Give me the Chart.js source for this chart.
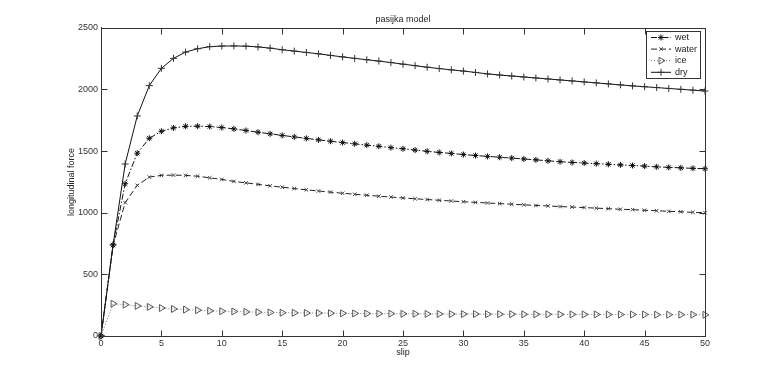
<!DOCTYPE html>
<html>
<head>
<meta charset="utf-8">
<script src="https://cdn.jsdelivr.net/npm/chart.js@4/dist/chart.umd.min.js"></script>
<style>
html,body{margin:0;padding:0;background:#fff;}
#wrap{width:777px;height:378px;}
</style>
</head>
<body>
<div id="wrap"><canvas id="c" width="777" height="378"></canvas></div>
<script>
// ---- data ----
const slip = [0,1,2,3,4,5,6,7,8,9,10,11,12,13,14,15,16,17,18,19,20,21,22,23,24,25,26,27,28,29,30,31,32,33,34,35,36,37,38,39,40,41,42,43,44,45,46,47,48,49,50];
const wet = [0,738,1235,1483,1604,1661,1688,1701,1702,1699,1691,1680,1667,1653,1640,1627,1615,1603,1591,1580,1569,1559,1548,1539,1528,1519,1508,1498,1489,1481,1472,1464,1457,1450,1443,1436,1429,1421,1414,1408,1403,1398,1393,1388,1383,1378,1372,1368,1364,1360,1357];
const water = [0,735,1082,1222,1289,1303,1305,1303,1296,1283,1270,1254,1242,1230,1218,1207,1196,1186,1176,1167,1158,1150,1142,1134,1127,1120,1113,1107,1101,1095,1089,1084,1079,1074,1069,1064,1059,1055,1050,1046,1042,1037,1033,1028,1025,1020,1016,1011,1008,1003,1000];
const ice = [0,262,254,244,236,227,219,214,209,204,201,199,196,193,191,189,188,187,186,185,184,183,182,181,181,180,180,179,179,178,178,178,177,177,177,176,176,176,175,175,175,175,174,174,174,174,173,173,173,173,172];
const dry = [0,740,1395,1785,2031,2171,2252,2303,2330,2347,2352,2353,2351,2345,2335,2322,2311,2300,2289,2276,2264,2252,2241,2230,2218,2205,2193,2180,2169,2159,2149,2138,2126,2117,2109,2101,2093,2085,2077,2069,2061,2053,2045,2037,2029,2022,2015,2008,2001,1994,1987];
const seriesNames = ['wet','water','ice','dry'];
const xTickValues = [0,5,10,15,20,25,30,35,40,45,50];
const yTickValues = [0,500,1000,1500,2000,2500];
const titleText = 'pasijka model';
const xTitle = 'slip';
const yTitle = 'longitudinal force';

const FONT = "'Liberation Sans Narrow','Liberation Sans',Arial,sans-serif";
const AX = '#333';

function pts(arr){ return slip.map((x,i)=>({x:x, y:arr[i]})); }

const datasets = [
  {label:seriesNames[0], data:pts(wet), borderColor:'#111', borderWidth:1, borderDash:[6,2,1.5,2],
   pointStyle:'star', pointRadius:3, pointBorderWidth:1, pointBorderColor:'#111', pointBackgroundColor:'rgba(0,0,0,0)'},
  {label:seriesNames[1], data:pts(water), borderColor:'#222', borderWidth:1, borderDash:[6,3],
   pointStyle:'crossRot', pointRadius:2.5, pointBorderWidth:1, pointBorderColor:'#444', pointBackgroundColor:'rgba(0,0,0,0)'},
  {label:seriesNames[2], data:pts(ice), borderColor:'#777', borderWidth:1, borderDash:[1,2],
   pointStyle:'triangle', pointRotation:90, pointRadius:4, pointBorderWidth:1, pointBorderColor:'#555', pointBackgroundColor:'rgba(255,255,255,0)'},
  {label:seriesNames[3], data:pts(dry), borderColor:'#111', borderWidth:1, borderDash:[],
   pointStyle:'cross', pointRadius:3.5, pointBorderWidth:1, pointBorderColor:'#333', pointBackgroundColor:'rgba(0,0,0,0)'}
];
datasets.forEach(d=>{ d.tension=0; d.fill=false; d.clip=false; d.pointHoverRadius=d.pointRadius; });

const boxPlugin = {
  id:'matlabBox',
  afterDatasetsDraw(chart){
    const {ctx, chartArea:a} = chart;
    const xs = chart.scales.x, ys = chart.scales.y;
    ctx.save();
    ctx.strokeStyle = AX; ctx.lineWidth = 1; ctx.setLineDash([]);
    const L = Math.round(a.left)+0.5, R = Math.round(a.right)+0.5, T = Math.round(a.top)+0.5, B = Math.round(a.bottom)+0.5;
    ctx.strokeRect(L, T, R-L, B-T);
    ctx.beginPath();
    xs.ticks.forEach(t=>{
      const px = Math.round(xs.getPixelForValue(t.value))+0.5;
      ctx.moveTo(px,B); ctx.lineTo(px,B-6);
      ctx.moveTo(px,T); ctx.lineTo(px,T+6);
    });
    ys.ticks.forEach(t=>{
      const py = Math.round(ys.getPixelForValue(t.value))+0.5;
      ctx.moveTo(L,py); ctx.lineTo(L+6,py);
      ctx.moveTo(R,py); ctx.lineTo(R-6,py);
    });
    ctx.stroke();

    // legend box (top-right, inside axes)
    const bw = 54, bh = 47;
    const bx = Math.round(a.right) - 5 - bw, by = Math.round(a.top) + 3;
    ctx.fillStyle = '#fff';
    ctx.fillRect(bx, by, bw, bh);
    ctx.strokeStyle = AX;
    ctx.strokeRect(bx+0.5, by+0.5, bw, bh);
    chart.data.datasets.forEach((ds,i)=>{
      const y = by + 6.5 + i*11.6;
      ctx.save();
      ctx.strokeStyle = ds.borderColor; ctx.lineWidth = ds.borderWidth;
      ctx.setLineDash(ds.borderDash||[]);
      ctx.beginPath(); ctx.moveTo(bx+5,y); ctx.lineTo(bx+25,y); ctx.stroke();
      ctx.restore();
      ctx.save();
      ctx.setLineDash([]);
      ctx.strokeStyle = ds.pointBorderColor; ctx.fillStyle = ds.pointBackgroundColor;
      ctx.lineWidth = ds.pointBorderWidth;
      if (Chart.helpers && Chart.helpers.drawPoint) {
        Chart.helpers.drawPoint(ctx, {pointStyle:ds.pointStyle, rotation:ds.pointRotation||0, radius:ds.pointRadius, borderWidth:ds.pointBorderWidth}, bx+15, y);
      }
      ctx.restore();
      ctx.fillStyle = '#222';
      ctx.font = "9px " + FONT;
      ctx.textBaseline = 'middle'; ctx.textAlign = 'left';
      ctx.fillText(ds.label, bx+29, y);
    });
    ctx.restore();
  }
};

new Chart(document.getElementById('c'), {
  type:'line',
  data:{datasets:datasets},
  plugins:[boxPlugin],
  options:{
    responsive:false, animation:false, devicePixelRatio:1,
    layout:{padding:{left:0,right:72,top:0,bottom:0}},
    plugins:{
      legend:{display:false},
      tooltip:{enabled:false},
      title:{display:true, text:titleText, fullSize:false, color:'#222',
        font:{family:FONT, size:9, weight:'normal', lineHeight:1.2}, padding:{top:14,bottom:3}}
    },
    scales:{
      x:{type:'linear', min:0, max:50,
        afterBuildTicks(s){ s.ticks = xTickValues.map(v=>({value:v})); },
        ticks:{color:'#333', padding:2, font:{family:FONT,size:9}, maxRotation:0, autoSkip:false,
          callback:(v)=>String(v)},
        grid:{drawOnChartArea:false, drawTicks:false},
        border:{display:true, color:AX, width:1},
        title:{display:true, text:xTitle, color:'#222', font:{family:FONT,size:9}, padding:{top:0,bottom:20}},
        afterFit(s){ s.height = 42; }
      },
      y:{type:'linear', min:0, max:2500,
        afterBuildTicks(s){ s.ticks = yTickValues.map(v=>({value:v})); },
        ticks:{color:'#333', padding:3, font:{family:FONT,size:9}, autoSkip:false,
          callback:(v)=>String(v)},
        grid:{drawOnChartArea:false, drawTicks:false},
        border:{display:true, color:AX, width:1},
        title:{display:true, text:yTitle, color:'#222', font:{family:FONT,size:9}, padding:{top:66,bottom:0}},
        afterFit(s){ s.width = 101; }
      }
    }
  }
});
</script>
</body>
</html>
